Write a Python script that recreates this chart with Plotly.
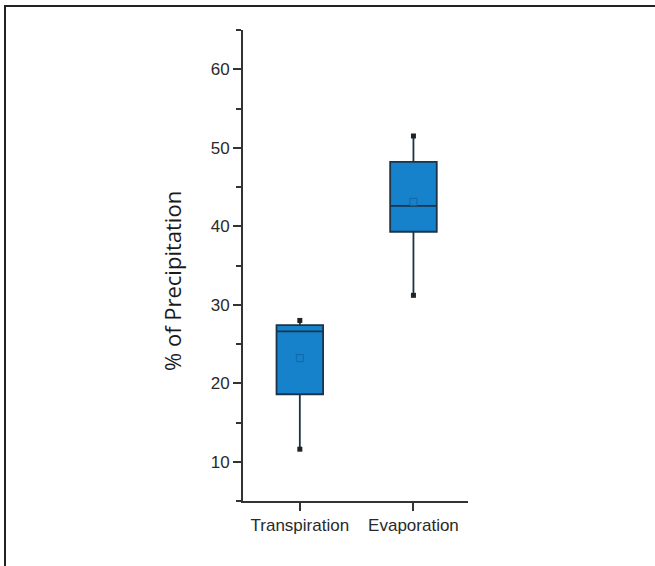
import plotly.graph_objects as go

categories = ["Transpiration", "Evaporation"]
whisker_low = [11.6, 31.2]
q1_vals = [18.6, 39.3]
median_vals = [26.6, 42.6]
q3_vals = [27.4, 48.2]
whisker_high = [28.0, 51.5]
mean_vals = [23.2, 43.1]
y_ticks = [10, 20, 30, 40, 50, 60]

W, H = 655, 566
L, R, T, B = 243, 187, 30, 65
pw, ph = W - L - R, H - T - B

def px_x(p):
    return (p - L) / pw

def px_y(p):
    return (H - B - p) / ph

fig = go.Figure()
fig.add_trace(go.Box(
    x=categories,
    q1=q1_vals, median=median_vals, q3=q3_vals,
    lowerfence=whisker_low, upperfence=whisker_high,
    fillcolor="#1782cc",
    line=dict(color="#1d3347", width=1.8),
    whiskerwidth=0,
    width=0.41,
    boxpoints=False,
    showlegend=False,
    hoverinfo="skip",
))
fig.add_trace(go.Scatter(
    x=categories + categories,
    y=whisker_low + whisker_high,
    mode="markers",
    marker=dict(symbol="square", size=5, color="#222222"),
    showlegend=False, hoverinfo="skip",
))
fig.add_trace(go.Scatter(
    x=categories, y=mean_vals, mode="markers",
    marker=dict(symbol="square-open", size=7, color="#1566a8", line=dict(width=1)),
    showlegend=False, hoverinfo="skip",
))

fig.update_layout(
    width=W, height=H,
    margin=dict(l=L, r=R, t=T, b=B),
    paper_bgcolor="white", plot_bgcolor="white",
    xaxis=dict(
        type="category", range=[-0.5, 1.48],
        showline=True, linecolor="#333333", linewidth=2,
        ticks="outside", ticklen=8, tickwidth=2, tickcolor="#333333",
        showgrid=False, zeroline=False,
        tickfont=dict(family="Liberation Sans, Arial, sans-serif", size=17, color="#2a2a2a"),
    ),
    yaxis=dict(
        range=[5, 65],
        tickvals=y_ticks,
        showline=True, linecolor="#333333", linewidth=2,
        ticks="outside", ticklen=8, tickwidth=2, tickcolor="#333333",
        minor=dict(tickvals=[5, 15, 25, 35, 45, 55, 65], ticks="outside", ticklen=5,
                   tickwidth=2, tickcolor="#333333", showgrid=False),
        showgrid=False, zeroline=False,
        tickfont=dict(family="Liberation Sans, Arial, sans-serif", size=17, color="#2a2a2a"),
    ),
    annotations=[dict(
        text="% of Precipitation", textangle=-90,
        xref="paper", yref="paper", x=px_x(172), y=px_y(281),
        xanchor="center", yanchor="middle", showarrow=False,
        font=dict(family="Open Sans, Noto Sans, sans-serif", size=22, color="#1a1a1a"),
    )],
    shapes=[
        dict(type="line", xref="paper", yref="paper",
             x0=px_x(4), x1=px_x(W + 2), y0=px_y(6), y1=px_y(6),
             line=dict(color="#222222", width=2)),
        dict(type="line", xref="paper", yref="paper",
             x0=px_x(5), x1=px_x(5), y0=px_y(5), y1=px_y(H + 2),
             line=dict(color="#222222", width=2)),
    ],
)

fig.write_html("out.html",
               config={"displayModeBar": False},
               post_script="document.body.style.margin='0';document.body.style.overflow='hidden';")
